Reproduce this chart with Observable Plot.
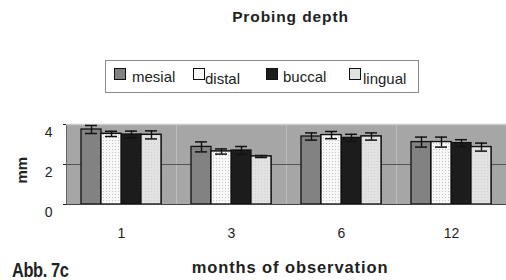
<!DOCTYPE html>
<html>
<head>
<meta charset="utf-8">
<script src="https://cdn.jsdelivr.net/npm/d3@7"></script>
<script src="https://cdn.jsdelivr.net/npm/@observablehq/plot@0.6"></script>
<style>
  html, body { margin: 0; padding: 0; background: #fff; }
  #wrap { position: relative; width: 506px; height: 280px; overflow: hidden; font-family: "Liberation Sans", Arial, sans-serif; color: #222; }
  #title { position: absolute; top: 8px; left: 0; width: 581px; text-align: center; font-weight: bold; font-size: 15.5px; letter-spacing: 0.9px; }
  #legend { position: absolute; left: 105px; top: 60px; width: 312px; height: 31px; border: 1px solid #8a8a8a; background: #fff; }
  .li { position: absolute; top: 7px; font-size: 15px; line-height: 17px; }
  .sw { position: absolute; top: 7px; width: 10px; height: 10px; border: 1px solid #111; }
  #chart { position: absolute; left: 0; top: 100px; }
  #ylab { position: absolute; left: 8px; top: 162px; transform: rotate(-90deg); transform-origin: center; font-weight: bold; font-size: 15px; width: 26px; line-height: 17px; text-align: center; }
  #xlab { position: absolute; left: 0; width: 580px; top: 258px; text-align: center; font-weight: bold; font-size: 16.5px; letter-spacing: 0.9px; }
  #abb { position: absolute; left: 12px; top: 259px; font-weight: bold; font-size: 21px; line-height: 21px; letter-spacing: -0.5px; transform: scaleX(0.78); transform-origin: left center; white-space: nowrap; }
</style>
</head>
<body>
<svg width="0" height="0" style="position:absolute">
  <defs>
    <pattern id="dots" width="3" height="3" patternUnits="userSpaceOnUse">
      <rect width="3" height="3" fill="#f8f8f8"></rect>
      <rect x="1" y="1" width="1" height="1" fill="#c4c4c4"></rect>
    </pattern>
    <pattern id="dotsL" width="3" height="3" patternUnits="userSpaceOnUse">
      <rect width="3" height="3" fill="#e2e2e2"></rect>
      <rect x="1" y="1" width="1" height="1" fill="#cfcfcf"></rect>
    </pattern>
  </defs>
</svg>
<div id="wrap">
  <div id="title">Probing depth</div>
  <div id="legend"></div>
  <div id="chart"></div>
  <div id="ylab">mm</div>
  <div id="xlab">months of observation</div>
  <div id="abb">Abb. 7c</div>
</div>
<script>
// ---- data ----
const months = ["1", "3", "6", "12"];
const sides = ["mesial", "distal", "buccal", "lingual"];
const mesial  = [3.75, 2.88, 3.40, 3.12];
const distal  = [3.53, 2.65, 3.47, 3.12];
const buccal  = [3.50, 2.70, 3.33, 3.07];
const lingual = [3.48, 2.40, 3.40, 2.87];
const mesialErr  = [0.20, 0.25, 0.18, 0.25];
const distalErr  = [0.13, 0.13, 0.18, 0.25];
const buccalErr  = [0.17, 0.20, 0.18, 0.17];
const lingualErr = [0.20, 0.05, 0.18, 0.20];
const yTicks = [0, 2, 4];
const sideColors = ["#828282", "#f8f8f8", "#1c1c1c", "#e2e2e2"];

const series = {mesial, distal, buccal, lingual};
const errs = {mesial: mesialErr, distal: distalErr, buccal: buccalErr, lingual: lingualErr};
const data = [];
months.forEach((m, i) => {
  sides.forEach(s => {
    const v = series[s][i], e = errs[s][i];
    data.push({month: m, side: s, value: v, lo: v - e, hi: v + e});
  });
});

// legend
const legend = document.getElementById("legend");
const legPos = [[8, 26], [87, 99], [160, 177], [243, 257]];
sides.forEach((s, i) => {
  const sw = document.createElement("div");
  sw.className = "sw";
  sw.style.left = legPos[i][0] + "px";
  sw.style.background = sideColors[i];
  legend.appendChild(sw);
  const t = document.createElement("div");
  t.className = "li";
  t.style.left = legPos[i][1] + "px";
  if (s === "distal" || s === "lingual") t.style.top = "9px";
  t.textContent = s;
  legend.appendChild(t);
});

const chart = Plot.plot({
  width: 506,
  height: 180,
  marginTop: 24,
  marginBottom: 76,
  marginLeft: 66,
  marginRight: 0,
  style: {fontSize: "14px", fontFamily: "Liberation Sans, Arial, sans-serif", color: "#222", background: "transparent"},
  fx: {domain: months, padding: 0, label: null, tickSize: 0, tickPadding: 24},
  x: {domain: sides, paddingInner: 0, paddingOuter: 0.7, axis: null},
  y: {domain: [0, 4], ticks: yTicks, tickFormat: d3.format("d"), label: null, tickSize: 3, tickPadding: 11, line: true},
  color: {domain: sides, range: sideColors},
  marks: [
    Plot.frame({fill: "#a6a6a6", stroke: null}),
    Plot.ruleY([2], {stroke: "#555", strokeWidth: 1}),
    Plot.ruleY([4], {stroke: "#c9c9c9", strokeWidth: 1.5}),
    Plot.barY(data, {fx: "month", x: "side", y: "value", fill: "side", stroke: "#111", strokeWidth: 1.3}),
    Plot.barY(data.filter(d => d.side === "distal"), {fx: "month", x: "side", y: "value", fill: "url(#dots)", stroke: "#111", strokeWidth: 1.3}),
    Plot.barY(data.filter(d => d.side === "lingual"), {fx: "month", x: "side", y: "value", fill: "url(#dotsL)", stroke: "#111", strokeWidth: 1.3}),
    Plot.ruleX(data, {fx: "month", x: "side", y1: "lo", y2: "hi", stroke: "#111", strokeWidth: 1.4}),
    Plot.tickY(data, {fx: "month", x: "side", y: "hi", stroke: "#111", strokeWidth: 1.5, insetLeft: 4, insetRight: 4}),
    Plot.tickY(data, {fx: "month", x: "side", y: "lo", stroke: "#111", strokeWidth: 1.5, insetLeft: 4, insetRight: 4}),
    Plot.ruleY([0], {stroke: "#444", strokeWidth: 1.2})
  ]
});
chart.querySelectorAll("g[aria-label='y-axis tick label'] text, g[aria-label='y-axis'] text").forEach(t => t.setAttribute("dy", "0.55em"));
document.getElementById("chart").appendChild(chart);
</script>
</body>
</html>
